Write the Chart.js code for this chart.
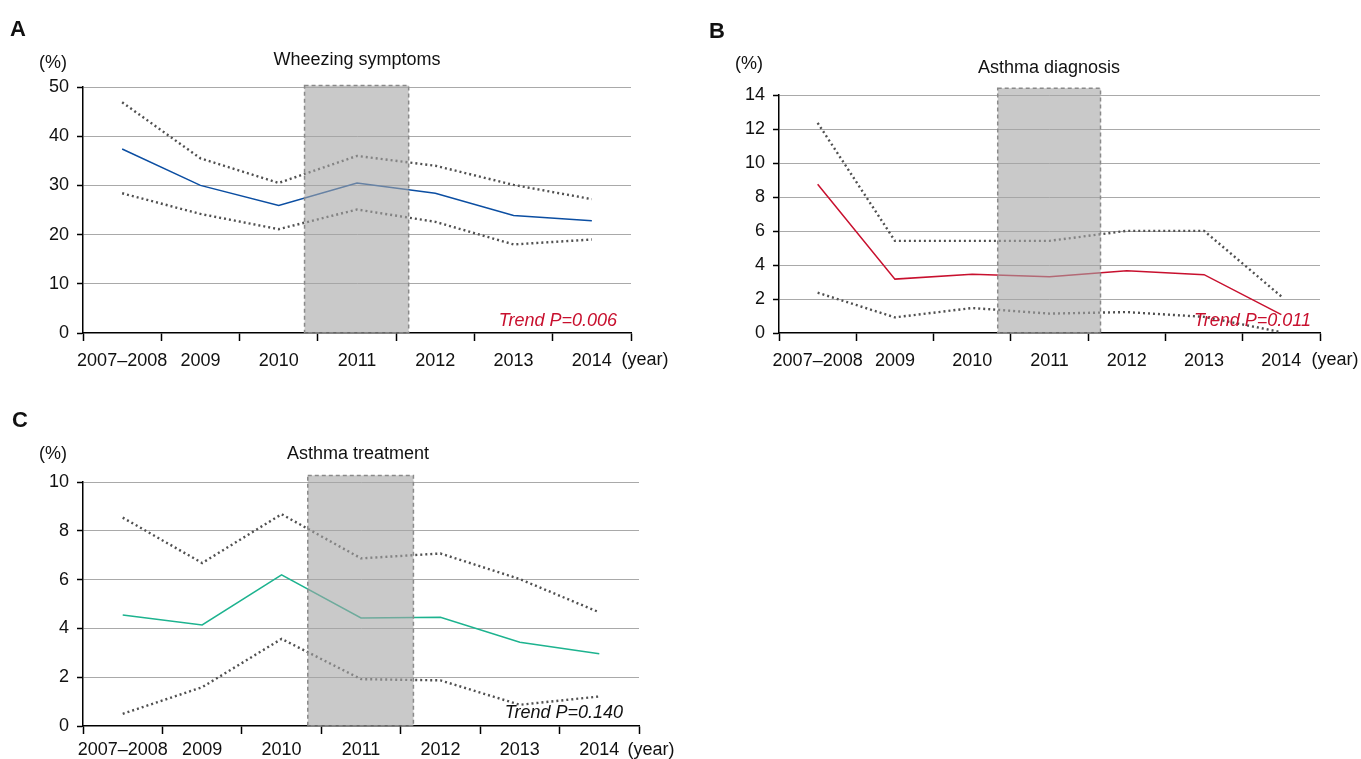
<!DOCTYPE html>
<html>
<head>
<meta charset="utf-8">
<script src="https://cdn.jsdelivr.net/npm/chart.js@4.4.1/dist/chart.umd.min.js"></script>
<style>
  body { margin:0; background:#fff; width:1361px; height:759px; position:relative; overflow:hidden;
         font-family:"Liberation Sans", Arial, sans-serif; color:#111; }
  canvas { position:absolute; }
  .t { position:absolute; white-space:nowrap; font-size:18px; line-height:1; transform:translate(-50%,-50%); }
  .lab { font-weight:bold; font-size:22px; }
  .trend { font-style:italic; font-size:18px; transform:translate(-100%,-50%); }
</style>
</head>
<body>
<canvas id="chartA" width="680" height="380" style="left:0;top:0"></canvas>
<canvas id="chartB" width="671" height="380" style="left:690px;top:0"></canvas>
<canvas id="chartC" width="680" height="359" style="left:0;top:400px"></canvas>

<div class="t lab" style="left:18px;top:29px">A</div>
<div class="t" style="left:53px;top:62px">(%)</div>
<div class="t" style="left:357px;top:59px">Wheezing symptoms</div>
<div class="t" style="left:645px;top:359px">(year)</div>
<div class="t trend" style="left:617px;top:320px;color:#c8102e">Trend P=0.006</div>

<div class="t lab" style="left:717px;top:31px">B</div>
<div class="t" style="left:749px;top:63px">(%)</div>
<div class="t" style="left:1049px;top:67px">Asthma diagnosis</div>
<div class="t" style="left:1335px;top:359px">(year)</div>
<div class="t trend" style="left:1311px;top:320px;color:#c8102e">Trend P=0.011</div>

<div class="t lab" style="left:20px;top:420px">C</div>
<div class="t" style="left:53px;top:453px">(%)</div>
<div class="t" style="left:358px;top:453px">Asthma treatment</div>
<div class="t" style="left:651px;top:749px">(year)</div>
<div class="t trend" style="left:623px;top:712px;color:#111">Trend P=0.140</div>

<script>
// data
var years = ['2007\u20132008', '2009', '2010', '2011', '2012', '2013', '2014'];
var highlightYear = '2011';

var wheezeRate  = [37.4, 30.0, 25.9, 30.5, 28.4, 23.9, 22.8];
var wheezeUpper = [46.9, 35.5, 30.5, 36.0, 34.0, 30.1, 27.2];
var wheezeLower = [28.4, 24.2, 21.1, 25.1, 22.6, 18.0, 19.0];

var diagRate  = [8.75, 3.17, 3.45, 3.31, 3.66, 3.43, 1.08];
var diagUpper = [12.36, 5.42, 5.42, 5.42, 6.01, 6.01, 2.15];
var diagLower = [2.37, 0.92, 1.47, 1.14, 1.23, 0.95, 0.05];

var treatRate  = [4.55, 4.14, 6.19, 4.43, 4.46, 3.43, 2.96];
var treatUpper = [8.54, 6.68, 8.68, 6.87, 7.07, 6.02, 4.66];
var treatLower = [0.50, 1.59, 3.57, 1.92, 1.87, 0.87, 1.21];

var wheezeTicks = [0, 10, 20, 30, 40, 50];
var diagTicks   = [0, 2, 4, 6, 8, 10, 12, 14];
var treatTicks  = [0, 2, 4, 6, 8, 10];

var FONT = "'Liberation Sans', Arial, sans-serif";

// grey band over the highlighted year, drawn on top of the lines
var shadePlugin = {
  id: 'shade',
  afterDatasetsDraw: function (chart, args, opts) {
    var x = chart.scales.x, y = chart.scales.y, ctx = chart.ctx;
    var i = years.indexOf(highlightYear);
    var w = x.getPixelForValue(1) - x.getPixelForValue(0);
    var cx = x.getPixelForValue(i);
    var left = cx - w * 0.67, right = cx + w * 0.66;
    var top = y.getPixelForValue(opts.top), bottom = y.getPixelForValue(0);
    ctx.save();
    ctx.fillStyle = 'rgba(165,165,165,0.6)';
    ctx.fillRect(left, top, right - left, bottom - top);
    ctx.setLineDash([4, 3]);
    ctx.lineWidth = 1.5;
    ctx.strokeStyle = '#8a8a8a';
    ctx.strokeRect(left, top, right - left, bottom - top);
    ctx.restore();
  }
};

function makeChart(id, rate, upper, lower, color, ticks, shadeTop, lay) {
  var dotted = { borderColor: '#505050', borderWidth: 2.4, borderDash: [2, 3], pointRadius: 0, tension: 0, fill: false };
  return new Chart(document.getElementById(id).getContext('2d'), {
    type: 'line',
    data: {
      labels: years,
      datasets: [
        Object.assign({ label: 'upper', data: upper }, dotted),
        Object.assign({ label: 'lower', data: lower }, dotted),
        { label: 'rate', data: rate, borderColor: color, borderWidth: 1.5, pointRadius: 0, tension: 0, fill: false }
      ]
    },
    options: {
      responsive: false,
      animation: false,
      layout: { padding: { top: lay.top, right: lay.right, left: 0, bottom: 0 } },
      plugins: { legend: { display: false }, tooltip: { enabled: false }, shade: { top: shadeTop } },
      scales: {
        x: {
          offset: true,
          grid: { offset: true, drawOnChartArea: false, tickLength: 8, tickColor: '#000', tickWidth: 1.5 },
          border: { color: '#000', width: 1.5 },
          ticks: { color: '#111', font: { family: FONT, size: 18 }, padding: lay.xpad, maxRotation: 0, autoSkip: false },
          afterFit: function (s) { s.height = lay.xh; }
        },
        y: {
          min: ticks[0], max: ticks[ticks.length - 1],
          afterBuildTicks: function (s) { s.ticks = ticks.map(function (v) { return { value: v }; }); },
          grid: {
            color: function (c) { return c.tick && c.tick.value === 0 ? 'rgba(0,0,0,0)' : '#a9a9a9'; },
            lineWidth: 1, tickLength: 6, tickColor: '#000', tickWidth: 1.5
          },
          border: { color: '#000', width: 1.5 },
          ticks: { color: '#111', font: { family: FONT, size: 18 }, padding: 8 },
          afterFit: function (s) { s.width = lay.yw; }
        }
      }
    },
    plugins: [shadePlugin]
  });
}

makeChart('chartA', wheezeRate, wheezeUpper, wheezeLower, '#0b4ea2', wheezeTicks, 50.3,
  { top: 87, right: 49, xh: 47, yw: 83, xpad: 9 });
makeChart('chartB', diagRate, diagUpper, diagLower, '#c8102e', diagTicks, 14.4,
  { top: 95, right: 41, xh: 47, yw: 89, xpad: 9 });
makeChart('chartC', treatRate, treatUpper, treatLower, '#1db38f', treatTicks, 10.27,
  { top: 82, right: 41, xh: 33, yw: 83, xpad: 5 });
</script>
</body>
</html>
